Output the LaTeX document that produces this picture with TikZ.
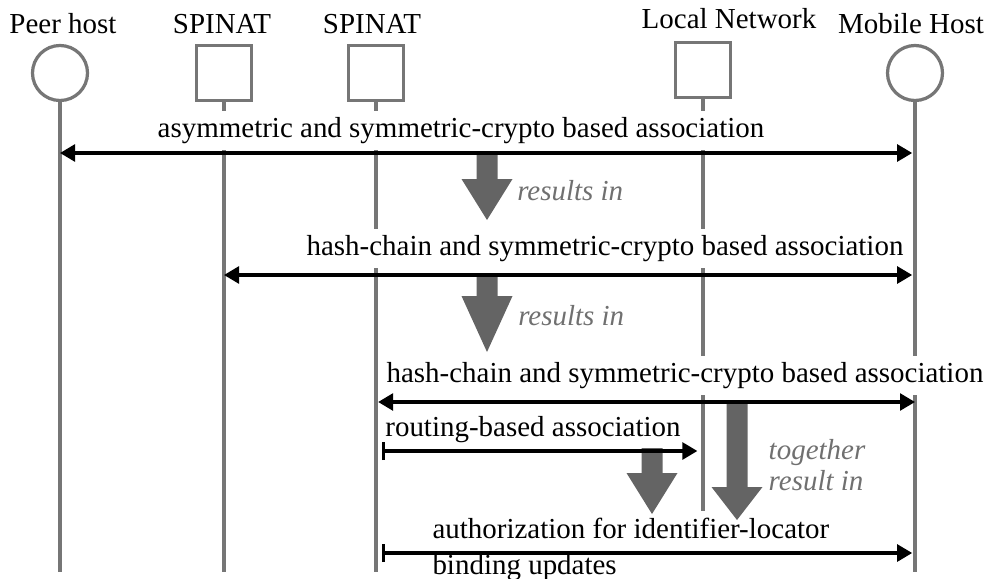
\documentclass[tikz,border=0pt]{standalone}
\usepackage{fontspec}
\setmainfont{Liberation Serif}
\usetikzlibrary{positioning, arrows.meta}
\definecolor{life_gray}{RGB}{118,118,118}
\definecolor{res_gray}{RGB}{100,100,100}
\definecolor{note_gray}{RGB}{112,112,112}

% big grey "results in" arrow: x, top, neck, tip
\newcommand{\resarrow}[4]{%
  \fill[res_gray] ({#1-10.5},#2) -- ({#1+10.5},#2) -- ({#1+10.5},#3) -- ({#1+25.5},#3)
    -- (#1,#4) -- ({#1-25.5},#3) -- ({#1-10.5},#3) -- cycle;}

\begin{document}
\begin{tikzpicture}[x=0.025cm, y=-0.025cm,
      font=\fontsize{20.6pt}{26pt}\selectfont,
      host/.style={circle, draw=life_gray, line width=2.3pt, fill=white, minimum size=1.375cm, inner sep=0pt},
      net/.style={rectangle, draw=life_gray, line width=2.3pt, fill=white, minimum size=1.375cm, inner sep=0pt},
      actor/.style={inner sep=0pt, anchor=base},
      life/.style={draw=life_gray, line width=2.3pt},
      msg/.style={line width=2.3pt, {Triangle[length=0.375cm, width=0.42cm]}-{Triangle[length=0.375cm, width=0.42cm]}},
      bmsg/.style={line width=2.3pt, {Bar[width=0.45cm]}-{Triangle[length=0.375cm, width=0.42cm]}},
      lbl/.style={fill=white, inner xsep=3pt, inner ysep=4.5pt},
      res/.style={note_gray, font=\fontsize{20.6pt}{21.5pt}\selectfont\itshape, inner sep=0pt}]
    \useasboundingbox (0,0) rectangle (994,579);
    % entities
    \node[host] (peer)   at (60,73)  {};
    \node[net]  (spa)    at (224,73) {};
    \node[net]  (spb)    at (376,73) {};
    \node[net]  (lnet)   at (703,70) {};
    \node[host] (mobile) at (915,73) {};
    \node[actor] (peerlbl)   at (63,33)  {Peer host};
    \node[actor] (spalbl)    at (222,33) {SPINAT};
    \node[actor] (spblbl)    at (372,33) {SPINAT};
    \node[actor] (lnetlbl)   at (729,28) {Local Network};
    \node[actor] (mobilelbl) at (911,33) {Mobile Host};
    % lifelines
    \coordinate (bottom) at (0,572);
    \foreach \n in {peer, spa, spb, lnet, mobile} \draw[life] (\n.south) -- (\n.south |- bottom);
    % associations
    \node[lbl, anchor=base] (a1) at (461,137) {asymmetric and symmetric-crypto based association};
    \node[lbl, anchor=base] (a2) at (605,255) {hash-chain and symmetric-crypto based association};
    \node[lbl, anchor=base] (a3) at (685,382) {hash-chain and symmetric-crypto based association};
    \node[lbl, anchor=base] (a4) at (533,436) {routing-based association};
    \node[lbl, anchor=north west, align=left] (a5) at (428,511) {authorization for identifier-locator\\binding updates};
    % results in
    \resarrow{487}{152}{179}{220}
    \resarrow{487}{273}{296}{352}
    \resarrow{652}{448}{473}{514}
    \resarrow{737}{402}{487}{520}
    \coordinate (m1) at (0,153);
    \coordinate (m2) at (0,275);
    \coordinate (m3) at (0,402);
    \coordinate (m4) at (0,451);
    \coordinate (m5) at (0,553);
    \draw[msg, shorten >=2pt] (m1 -| peer) -- (m1 -| mobile);
    \draw[msg, shorten >=2pt] (m2 -| spa) -- (m2 -| mobile);
    \draw[msg, shorten <=1.5pt] (m3 -| spb) -- (m3 -| mobile);
    \draw[bmsg, shorten <=4pt, shorten >=4pt] (m4 -| spb) -- (m4 -| lnet);
    \draw[bmsg, shorten <=4pt, shorten >=2pt] (m5 -| spb) -- (m5 -| mobile);
    \node[res, anchor=base west] (r1) at (517,200) {results in};
    \node[res, anchor=base west] (r2) at (518,325) {results in};
    \node[res, align=left] (r3) at (817,465) {together\\result in};
  \end{tikzpicture}
\end{document}
